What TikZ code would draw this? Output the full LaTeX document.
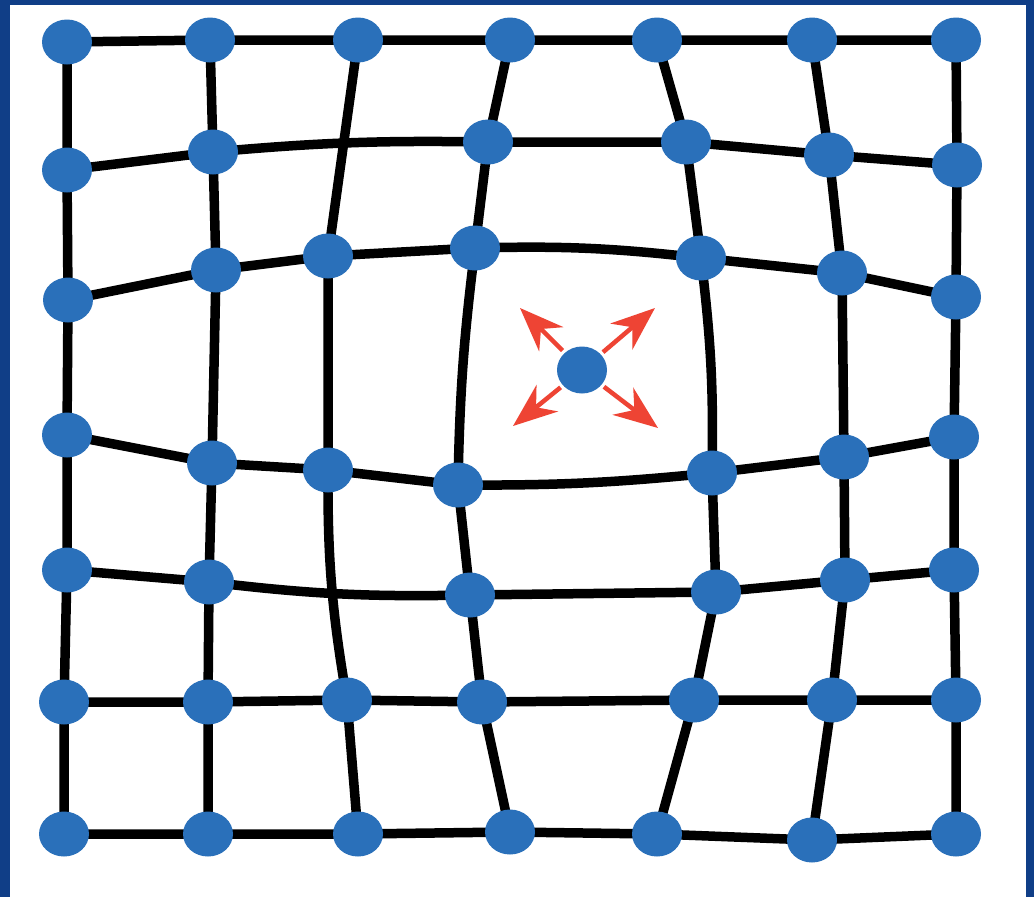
\documentclass[tikz,border=0pt]{standalone}
\usepackage{tikz}
\usetikzlibrary{arrows.meta, shapes.geometric}
\definecolor{knotblue}{RGB}{42,112,186}
\definecolor{frameblue}{RGB}{16,62,135}
\definecolor{pushred}{RGB}{238,68,52}
\pgfdeclarelayer{back}
\pgfdeclarelayer{wires}
\pgfsetlayers{back,wires,main}
\tikzset{
    knot/.style={ellipse, fill=knotblue, minimum width=50pt, minimum height=45pt, inner sep=0pt},
    link/.style={line width=9.5pt, black},
    push/.style={-{Stealth[length=44pt, width=34pt]}, line width=4.5pt, pushred, shorten <=3pt}
}

\begin{document}
\begin{tikzpicture}[x=1pt, y=-1pt]
    \useasboundingbox (0,0) rectangle (1034,897);
    \begin{pgfonlayer}{back}
        \fill[frameblue] (0,0) rectangle (1034,897);
        \fill[white] (10,5) rectangle (1026,897);
    \end{pgfonlayer}
    % узлы сетки, строка за строкой
    \node[knot] (k00) at (67,42) {}; \node[knot] (k01) at (210,40) {}; \node[knot] (k02) at (358,40) {};
    \node[knot] (k03) at (510,40) {}; \node[knot] (k04) at (657,40) {}; \node[knot] (k05) at (812,40) {};
    \node[knot] (k06) at (956,40) {};
    \node[knot] (k10) at (67,170) {}; \node[knot] (k11) at (213,152) {}; \node[knot] (k13) at (488,142) {};
    \node[knot] (k14) at (686,142) {}; \node[knot] (k15) at (829,155) {}; \node[knot] (k16) at (957,165) {};
    \node[knot] (k20) at (68,300) {}; \node[knot] (k21) at (216,270) {}; \node[knot] (k22) at (328,256) {};
    \node[knot] (k23) at (475,248) {}; \node[knot] (k24) at (701,258) {}; \node[knot] (k25) at (842,273) {};
    \node[knot] (k26) at (956,297) {};
    \node[knot] (k30) at (67,435) {}; \node[knot] (k31) at (212,463) {}; \node[knot] (k32) at (328,470) {};
    \node[knot] (k33) at (458,485) {}; \node[knot] (k34) at (712,473) {}; \node[knot] (k35) at (844,457) {};
    \node[knot] (k36) at (954,437) {};
    \node[knot] (k40) at (67,570) {}; \node[knot] (k41) at (209,582) {}; \node[knot] (k43) at (470,595) {};
    \node[knot] (k44) at (716,592) {}; \node[knot] (k45) at (845,580) {}; \node[knot] (k46) at (954,570) {};
    \node[knot] (k50) at (64,702) {}; \node[knot] (k51) at (208,702) {}; \node[knot] (k52) at (347,700) {};
    \node[knot] (k53) at (482,702) {}; \node[knot] (k54) at (694,700) {}; \node[knot] (k55) at (832,700) {};
    \node[knot] (k56) at (956,700) {};
    \node[knot] (k60) at (64,834) {}; \node[knot] (k61) at (208,834) {}; \node[knot] (k62) at (358,834) {};
    \node[knot] (k63) at (510,832) {}; \node[knot] (k64) at (657,834) {}; \node[knot] (k65) at (812,840) {};
    \node[knot] (k66) at (956,834) {};
    \begin{pgfonlayer}{wires}
        % горизонтальные линии
        \draw[link] (k00.center) -- (k01.center) -- (k02.center) -- (k03.center) -- (k04.center) -- (k05.center) -- (k06.center);
        \draw[link] (k10.center) -- (k11.center) to[bend left=3] (k13.center) -- (k14.center) -- (k15.center) -- (k16.center);
        \draw[link] (k20.center) -- (k21.center) -- (k22.center) -- (k23.center) to[bend left=4] (k24.center) -- (k25.center) -- (k26.center);
        \draw[link] (k30.center) -- (k31.center) -- (k32.center) -- (k33.center) to[bend right=3] (k34.center) -- (k35.center) -- (k36.center);
        \draw[link] (k40.center) -- (k41.center) to[bend right=4] (k43.center) -- (k44.center) -- (k45.center) -- (k46.center);
        \draw[link] (k50.center) -- (k51.center) -- (k52.center) -- (k53.center) -- (k54.center) -- (k55.center) -- (k56.center);
        \draw[link] (k60.center) -- (k61.center) -- (k62.center) -- (k63.center) -- (k64.center) -- (k65.center) -- (k66.center);
        % вертикальные линии
        \draw[link] (k00.center) -- (k10.center) -- (k20.center) -- (k30.center) -- (k40.center) -- (k50.center) -- (k60.center);
        \draw[link] (k01.center) -- (k11.center) -- (k21.center) -- (k31.center) -- (k41.center) -- (k51.center) -- (k61.center);
        \draw[link] (k02.center) -- (k22.center) -- (k32.center) to[bend right=5] (k52.center) -- (k62.center);
        \draw[link] (k03.center) -- (k13.center) -- (k23.center) to[bend right=3] (k33.center) -- (k43.center) -- (k53.center) -- (k63.center);
        \draw[link] (k04.center) -- (k14.center) -- (k24.center) to[bend left=4] (k34.center) -- (k44.center) -- (k54.center) -- (k64.center);
        \draw[link] (k05.center) -- (k15.center) -- (k25.center) -- (k35.center) -- (k45.center) -- (k55.center) -- (k65.center);
        \draw[link] (k06.center) -- (k16.center) -- (k26.center) -- (k36.center) -- (k46.center) -- (k56.center) -- (k66.center);
    \end{pgfonlayer}
    % узел в центре и его смещение
    \node[knot, minimum height=47pt] (ctr) at (582,370) {};
    \coordinate (tipNW) at (520,308); \coordinate (tipNE) at (655,308);
    \coordinate (tipSW) at (513,426); \coordinate (tipSE) at (658,428);
    \draw[push] (ctr) -- (tipNW); \draw[push] (ctr) -- (tipNE);
    \draw[push] (ctr) -- (tipSW); \draw[push] (ctr) -- (tipSE);
\end{tikzpicture}
\end{document}
